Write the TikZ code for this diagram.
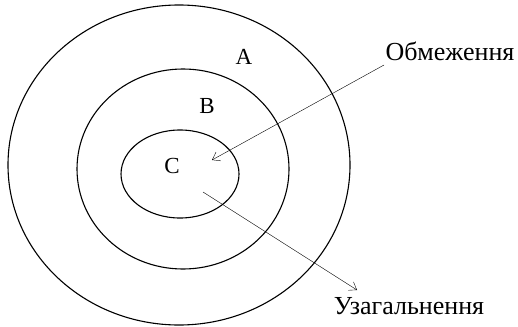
\documentclass[tikz,border=0pt]{standalone}
\usepackage{fontspec}
\setmainfont{Liberation Serif}
\usetikzlibrary{shapes.geometric,arrows.meta}
\begin{document}
\begin{tikzpicture}[x=1pt,y=-1pt,
  ring/.style={draw,ellipse,line width=1.1pt,inner sep=0pt},
  letter/.style={font=\fontsize{23}{25}\selectfont,inner sep=0pt},
  caption/.style={font=\fontsize{26}{28}\selectfont,inner sep=0pt},
  pointer/.style={draw,line width=0.4pt,-{Straight Barb[length=7pt,width=10pt]}}]
\useasboundingbox (0,0) rectangle (518,326);
\node[ring,minimum width=342pt,minimum height=320pt] (outer) at (179,165) {};
\node[ring,minimum width=212pt,minimum height=200pt] (middle) at (183,169) {};
\node[ring,minimum width=118pt,minimum height=88pt] (inner) at (180,174) {};
\node[letter] (A) at (244,57) {A};
\node[letter] (B) at (207,106) {B};
\node[letter] (C) at (172,166) {C};
\node[caption] (lim) at (450,51) {Обмеження};
\node[caption] (gen) at (409,306) {Узагальнення};
\coordinate (limstart) at (384,65);
\coordinate (limend) at (212,160);
\coordinate (genstart) at (203,192);
\coordinate (genend) at (357,290);
\draw[pointer] (limstart) -- (limend);
\draw[pointer] (genstart) -- (genend);
\end{tikzpicture}
\end{document}
